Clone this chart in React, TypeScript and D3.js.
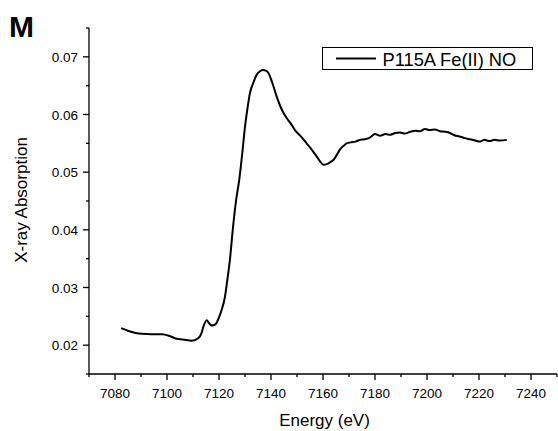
import React from "react";
import * as d3 from "d3";

const energy = [
  7082.3, 7085, 7088, 7090.4, 7094, 7098.1, 7101, 7103.7, 7106, 7109.5, 7112, 7113.2, 7114, 7115.3, 7116.2, 7117.2, 7118.2, 7119.1, 7120, 7121, 7122.3, 7123.2,
  7124.2, 7125.4, 7126.6, 7127.8, 7129, 7130, 7131, 7131.9, 7133.2, 7134.5, 7135.8, 7137, 7138, 7139, 7140.5, 7142.2, 7144, 7146, 7147.5, 7149.2, 7151.5, 7153.7, 7155.5,
  7157.6, 7159, 7160.1, 7161.5, 7163, 7164, 7165.3, 7166.5, 7168, 7169.1, 7171, 7172.5, 7174.2, 7176, 7178, 7180, 7182, 7184, 7186, 7187.8, 7189.6, 7191.5, 7193.5, 7195.5, 7197.3,
  7199.2, 7201, 7203, 7205, 7207, 7208.8, 7210.5, 7212.5, 7214.5, 7216.5, 7218.5, 7220.4, 7222, 7224, 7226, 7228, 7230.7,
];
const absorption = [
  0.02295, 0.0225, 0.0221, 0.02196, 0.0219, 0.0219, 0.0216, 0.0211, 0.0210, 0.02075, 0.0212, 0.0220, 0.0232, 0.0243, 0.0238, 0.0234, 0.0235, 0.0239, 0.0248, 0.0261, 0.0284, 0.0313,
  0.0348, 0.0405, 0.0452, 0.0487, 0.0535, 0.0579, 0.0612, 0.0637, 0.0655, 0.0669, 0.0675, 0.0677, 0.0676, 0.0672, 0.0655, 0.0631, 0.0610, 0.0594, 0.0585, 0.0573, 0.0562, 0.055, 0.0540,
  0.0527, 0.0518, 0.0513, 0.0514, 0.0518, 0.0521, 0.0530, 0.0539, 0.0546, 0.055, 0.0552, 0.0553, 0.0556, 0.0557, 0.0560, 0.0566, 0.0563, 0.0566, 0.0565, 0.0568, 0.0569, 0.0567, 0.0570, 0.0572, 0.0571,
  0.0575, 0.0573, 0.0574, 0.0571, 0.0570, 0.0568, 0.0564, 0.0562, 0.0559, 0.0557, 0.0555, 0.0553, 0.0556, 0.0554, 0.0556, 0.0555, 0.0556,
];
const xTicks = [7080, 7100, 7120, 7140, 7160, 7180, 7200, 7220, 7240];
const yTicks = [0.02, 0.03, 0.04, 0.05, 0.06, 0.07];
const seriesLabel = "P115A Fe(II) NO";

export default function App() {
  const W = 558, H = 431;
  const x = d3.scaleLinear().domain([7070, 7250]).range([89, 557]);
  const y = d3.scaleLinear().domain([0.015, 0.075]).range([374, 28]);
  const pts = energy.map((e, i) => [e, absorption[i]] as [number, number]);
  const line = d3.line<[number, number]>().x(d => x(d[0])).y(d => y(d[1])).curve(d3.curveMonotoneX);
  const xMinor = d3.range(7070, 7251, 10).filter(v => !xTicks.includes(v));
  const yMinor = d3.range(0.015, 0.0751, 0.005).filter(v => !yTicks.some(t => Math.abs(t - v) < 1e-6));
  const font = "Liberation Sans, Arial, sans-serif";
  return (
    <svg width={W} height={H} style={{ position: "absolute", left: 0, top: 0 }} fontFamily={font}>
      <rect width={W} height={H} fill="#fff" />
      <text x={9} y={37} fontSize={30} fontWeight="bold">M</text>
      <line x1={89} x2={89} y1={28} y2={374} stroke="#000" strokeWidth={1.3} />
      <line x1={89} x2={557} y1={374} y2={374} stroke="#000" strokeWidth={1.3} />
      {yTicks.map(t => (
        <g key={t}>
          <line x1={83} x2={89} y1={y(t)} y2={y(t)} stroke="#000" strokeWidth={1.3} />
          <text x={78} y={y(t) + 5} fontSize={13.5} textAnchor="end">{t.toFixed(2)}</text>
        </g>
      ))}
      {yMinor.map(t => (
        <line key={t} x1={86} x2={89} y1={y(t)} y2={y(t)} stroke="#000" strokeWidth={1.3} />
      ))}
      {xTicks.map(t => (
        <g key={t}>
          <line x1={x(t)} x2={x(t)} y1={374} y2={380} stroke="#000" strokeWidth={1.3} />
          <text x={x(t)} y={397.5} fontSize={13.5} textAnchor="middle">{t}</text>
        </g>
      ))}
      {xMinor.map(t => (
        <line key={t} x1={x(t)} x2={x(t)} y1={374} y2={377} stroke="#000" strokeWidth={1.3} />
      ))}
      <text x={324.5} y={425.5} fontSize={17} textAnchor="middle">Energy (eV)</text>
      <text transform={`translate(26.5,200) rotate(-90)`} fontSize={17} textAnchor="middle">X-ray Absorption</text>
      <path d={line(pts) || ""} fill="none" stroke="#000" strokeWidth={2} />
      <rect x={322.5} y={47.5} width={210} height={22} fill="#fff" stroke="#000" strokeWidth={1} />
      <line x1={336} x2={376} y1={58.5} y2={58.5} stroke="#000" strokeWidth={2} />
      <text x={382.5} y={66} fontSize={18.3}>{seriesLabel}</text>
    </svg>
  );
}
